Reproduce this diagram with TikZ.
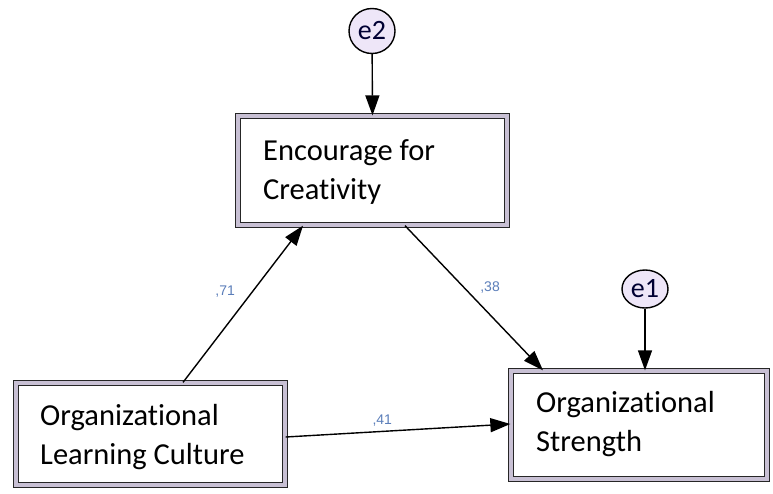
\documentclass[tikz,border=0pt]{standalone}
\usepackage{fontspec}
\setmainfont{Carlito}[Ligatures=NoCommon]
\newfontfamily\labelfont{Liberation Sans}
\usetikzlibrary{arrows.meta,shapes.geometric}
\definecolor{ringfill}{RGB}{200,192,212}
\definecolor{errfill}{RGB}{238,230,248}
\definecolor{coefcol}{RGB}{90,125,185}
\begin{document}
\begin{tikzpicture}[x=1pt,y=-1pt,
  varbox/.style={draw=black!85, line width=1.3pt, double=ringfill, double distance=3.2pt,
    fill=white, minimum width=#1, inner sep=0pt},
  boxtext/.style={anchor=west, inner sep=0pt, align=left,
    font=\fontsize{30.5}{39}\selectfont},
  errvar/.style={ellipse, draw=black, line width=1.4pt, fill=errfill, inner sep=0pt,
    font=\fontsize{28}{28}\selectfont, text=black!80!blue},
  path/.style={line width=1.4pt, -{Triangle[length=20pt,width=14pt]}},
  coef/.style={font=\labelfont\fontsize{14}{16}\selectfont, text=coefcol, inner sep=1pt}]
\useasboundingbox (0,0) rectangle (773,493);

% observed variables
\node[varbox=269pt, minimum height=109pt] (enc) at (372.5,170.5) {};
\node[boxtext] (enctext) at (263,172) {Encourage for\\Creativity};
\node[varbox=269pt, minimum height=102pt] (olc) at (150.5,434) {};
\node[boxtext] (olctext) at (40,437) {Organizational\\Learning Culture};
\node[varbox=256pt, minimum height=108pt] (str) at (639,425) {};
\node[boxtext] (strtext) at (536,424) {Organizational\\Strength};

% error terms
\node[errvar, minimum width=46pt, minimum height=45pt] (e2) at (372,31) {e2};
\node[errvar, minimum width=46pt, minimum height=38pt] (e1) at (645,289) {e1};

% paths
\draw[path] (e2) -- (enc.north);
\draw[path] (e1) -- ([xshift=6pt]str.north);
\draw[path] ([xshift=32.5pt]olc.north) -- ([xshift=-69.5pt]enc.south)
  node[coef, pos=0.58, left=16pt] {,71};
\draw[path] ([xshift=32.5pt]enc.south) -- ([xshift=-96pt]str.north)
  node[coef, pos=0.425, right=15pt] {,38};
\draw[path] ([yshift=-3pt]olc.east) -- ([yshift=1pt]str.west)
  node[coef, pos=0.43, above=3pt] {,41};
\end{tikzpicture}
\end{document}
